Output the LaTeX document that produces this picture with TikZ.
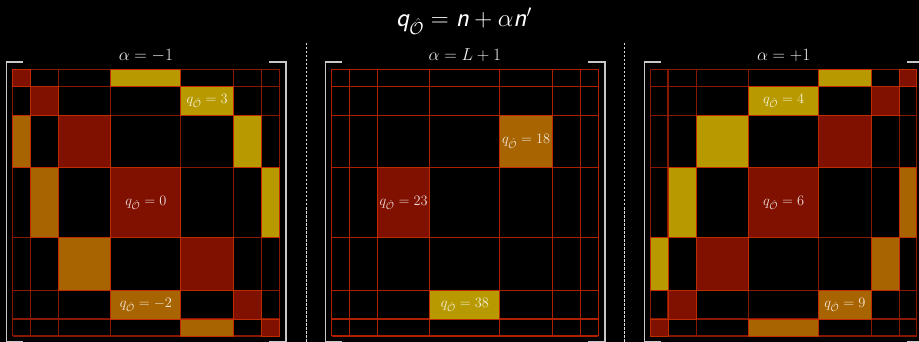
\documentclass[tikz,border=0pt]{standalone}
\usepackage{amsmath, amssymb}
\usepackage{tikz}
\usetikzlibrary{positioning, calc}

\definecolor{CellRed}{HTML}{801100}
\definecolor{CellOrange}{HTML}{A86400}
\definecolor{CellGold}{HTML}{B89A00}
\definecolor{CellEdge}{HTML}{C02C00}
\definecolor{GridDark}{HTML}{8A1800}
\definecolor{GridBright}{HTML}{AE2000}
\definecolor{BracketGrey}{HTML}{C8C8C8}

% cell edges inside one panel (px from the panel's top left corner)
\def\colpos{{0,17.5,45.8,98.2,168.2,220.6,248.9,266.4}}
\def\rowpos{{0,17.4,46,98.4,168.4,221.4,249.7,266.7}}

\newcommand{\sfv}[1]{\text{\sffamily\slshape #1}}
\newcommand{\qO}{q_{\hat{\mathcal{O}}}}

% panel tag, panel left, row, column, colour, label
\newcommand{\gridcell}[6]{%
  \pgfmathsetmacro\xa{#2+\colpos[#4]}
  \pgfmathsetmacro\xb{#2+\colpos[#4+1]}
  \pgfmathsetmacro\ya{69.3+\rowpos[#3]}
  \pgfmathsetmacro\yb{69.3+\rowpos[#3+1]}
  \pgfmathsetmacro\cw{\xb-\xa}
  \pgfmathsetmacro\ch{\yb-\ya}
  \node[cellbox, fill=#5, minimum width=\cw pt, minimum height=\ch pt]
    (#1-#3-#4) at ({(\xa+\xb)/2}, {(\ya+\yb)/2}) {#6};
}

\begin{document}
\begin{tikzpicture}[x=1pt, y=-1pt,
  cellbox/.style={draw=CellEdge, line width=1pt, inner sep=0pt, outer sep=0pt,
    text=white, text opacity=0.85, font=\fontsize{14}{16}\selectfont},
  bracket/.style={BracketGrey, line width=1.4pt},
  separator/.style={white!85!black, line width=1pt, dash pattern=on 2.5pt off 1.5pt},
  alphalabel/.style={anchor=base, text=white!94!black, font=\fontsize{18.5}{20}\selectfont}]
  \fill[black] (0,0) rectangle (919,342);
  \useasboundingbox (0,0) rectangle (919,342);

  \node[anchor=base, text=white, font=\fontsize{27}{30}\selectfont\sffamily] (title)
    at (464,27) {$\sfv{q}_{\hat{\mathcal{O}}} = \sfv{n} + \alpha\sfv{n}'$};

  \draw[separator] (306,43) -- (306,342);
  \draw[separator] (624,43) -- (624,342);

  % grids and brackets
  \foreach \px/\gc in {12.7/GridDark, 331.7/GridBright, 650.5/GridDark} {
    \foreach \c in {0,17.5,45.8,98.2,168.2,220.6,248.9,266.4}
      \draw[\gc, line width=1.1pt] (\px+\c,69.3) -- (\px+\c,336);
    \foreach \r in {0,17.4,46,98.4,168.4,221.4,249.7,266.7}
      \draw[\gc, line width=1.1pt] (\px,69.3+\r) -- (\px+266.4,69.3+\r);
    \draw[bracket] (\px+10.3,62) -- (\px-6,62) -- (\px-6,341.8) -- (\px+10.3,341.8);
    \draw[bracket] (\px+256.3,62) -- (\px+273.3,62) -- (\px+273.3,341.8) -- (\px+256.3,341.8);
  }

  % alpha = -1
  \node[alphalabel] (alphaA) at (145.9,61) {$\alpha = -1$};
  \foreach \r/\c/\col/\txt in {0/0/CellRed/{}, 1/1/CellRed/{}, 2/2/CellRed/{},
      3/3/CellRed/{$\qO = 0$}, 4/4/CellRed/{}, 5/5/CellRed/{}, 6/6/CellRed/{},
      0/3/CellGold/{}, 1/4/CellGold/{$\qO = 3$}, 2/5/CellGold/{}, 3/6/CellGold/{},
      2/0/CellOrange/{}, 3/1/CellOrange/{}, 4/2/CellOrange/{},
      5/3/CellOrange/{$\qO = -2$}, 6/4/CellOrange/{}}
    \gridcell{pa}{12.7}{\r}{\c}{\col}{\txt};

  % alpha = L+1
  \node[alphalabel] (alphaB) at (464.9,61) {$\alpha = L+1$};
  \foreach \r/\c/\col/\txt in {2/4/CellOrange/{$\qO = 18$},
      3/2/CellRed/{$\qO = 23$}, 5/3/CellGold/{$\qO = 38$}}
    \gridcell{pb}{331.7}{\r}{\c}{\col}{\txt};

  % alpha = +1
  \node[alphalabel] (alphaC) at (783.7,61) {$\alpha = +1$};
  \foreach \r/\c/\col/\txt in {0/6/CellRed/{}, 1/5/CellRed/{}, 2/4/CellRed/{},
      3/3/CellRed/{$\qO = 6$}, 4/2/CellRed/{}, 5/1/CellRed/{}, 6/0/CellRed/{},
      0/4/CellGold/{}, 1/3/CellGold/{$\qO = 4$}, 2/2/CellGold/{}, 3/1/CellGold/{},
      4/0/CellGold/{}, 3/6/CellOrange/{}, 4/5/CellOrange/{},
      5/4/CellOrange/{$\qO = 9$}, 6/3/CellOrange/{}}
    \gridcell{pc}{650.5}{\r}{\c}{\col}{\txt};
\end{tikzpicture}
\end{document}
